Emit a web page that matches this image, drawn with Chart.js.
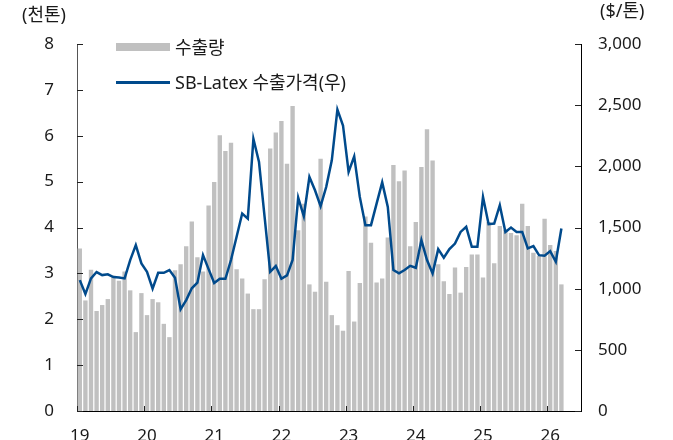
<!DOCTYPE html>
<html lang="ko">
<head>
<meta charset="utf-8">
<title>SB-Latex 수출</title>
<script src="https://cdn.jsdelivr.net/npm/chart.js@4.4.1/dist/chart.umd.min.js"></script>
<style>
  html, body { margin: 0; padding: 0; background: #fff; overflow: hidden; }
  #wrap { position: relative; width: 673px; height: 470px; }
  #chart { position: absolute; left: 0; top: 0; }
  .unit, .legend-item { position: absolute; font-family: "Noto Sans", "Noto Sans CJK KR", sans-serif; font-size: 18px; color: #1a1a1a; white-space: nowrap; line-height: 1; }
  .legend-item { display: flex; align-items: center; }
  .swatch-bar { width: 54px; height: 8px; background: #c0c0c0; margin-right: 5px; }
  .swatch-line { width: 54px; height: 3px; background: #004a8c; margin-right: 5px; }
</style>
</head>
<body>
<div id="wrap">
  <canvas id="chart" width="673" height="470"></canvas>
  <div class="unit" style="left:22px; top:5px;">(천톤)</div>
  <div class="unit" style="left:600px; top:1px;">($/톤)</div>
  <div class="legend-item" style="left:116px; top:38px;"><span class="swatch-bar"></span>수출량</div>
  <div class="legend-item" style="left:116px; top:73px;"><span class="swatch-line"></span>SB-Latex 수출가격(우)</div>
</div>
<script>
// year labels on the x axis (axis runs to mid-2026)
const yearLabels = ["19", "20", "21", "22", "23", "24", "25", "26"];

// monthly export volume, thousand tons
const exportVolume = [
  3.54, 2.41, 3.08, 2.18, 2.31, 2.44, 2.95, 2.84, 3.04, 2.63, 1.72, 2.57,
  2.09, 2.44, 2.37, 1.90, 1.61, 3.07, 3.20, 3.59, 4.13, 3.35, 3.04, 4.48,
  4.99, 6.01, 5.67, 5.85, 3.09, 2.89, 2.56, 2.22, 2.22, 2.87, 5.72, 6.07,
  6.32, 5.39, 6.65, 3.94, 4.52, 2.76, 2.60, 5.50, 2.82, 2.09, 1.87, 1.75,
  3.05, 1.95, 2.79, 4.24, 3.67, 2.80, 2.89, 3.78, 5.36, 5.01, 5.24, 3.59,
  4.12, 5.32, 6.14, 5.46, 3.20, 2.83, 2.55, 3.13, 2.58, 3.14, 3.41, 3.41,
  2.91, 4.12, 3.22, 4.03, 3.95, 3.88, 3.83, 4.52, 4.03, 3.45, 3.38, 4.19,
  3.62, 3.49, 2.76
];

// SB-Latex export price, $/ton (right axis)
const exportPrice = [
  1070, 956, 1084, 1136, 1111, 1117, 1095, 1092, 1084, 1234, 1356, 1206,
  1138, 1000, 1130, 1130, 1152, 1090, 831, 907, 1003, 1049, 1274, 1160,
  1046, 1081, 1081, 1234, 1424, 1614, 1573, 2225, 2035, 1587, 1138, 1185,
  1081, 1109, 1234, 1744, 1592, 1913, 1804, 1674, 1831, 2049, 2464, 2334,
  1954, 2081, 1750, 1519, 1519, 1695, 1869, 1668, 1152, 1125, 1152, 1187,
  1171, 1397, 1234, 1125, 1323, 1253, 1323, 1369, 1464, 1505, 1342, 1342,
  1750, 1527, 1532, 1682, 1464, 1500, 1464, 1464, 1329, 1348, 1274, 1269,
  1307, 1220, 1492
];

// month slots: 12 per year, 6 for the last one
const months = [];
yearLabels.forEach((yy, k) => {
  const n = k === yearLabels.length - 1 ? 6 : 12;
  for (let m = 1; m <= n; m++) months.push(yy + "-" + String(m).padStart(2, "0"));
});

const FONT = { family: "'Noto Sans', 'Noto Sans CJK KR', sans-serif", size: 17 };

// short tick marks pointing into the plot area
const inwardTicks = {
  id: "inwardTicks",
  afterDatasetsDraw(chart) {
    const { ctx, scales } = chart;
    const x = scales.x, y = scales.y, y1 = scales.y1;
    ctx.save();
    ctx.strokeStyle = "#222";
    ctx.lineWidth = 1;
    ctx.beginPath();
    y.ticks.forEach((t, i) => {
      const py = Math.round(y.getPixelForTick(i)) + 0.5;
      ctx.moveTo(x.left, py);
      ctx.lineTo(x.left + 6, py);
    });
    y1.ticks.forEach((t, i) => {
      const py = Math.round(y1.getPixelForTick(i)) + 0.5;
      ctx.moveTo(x.right, py);
      ctx.lineTo(x.right - 6, py);
    });
    const half = (x.getPixelForValue(1) - x.getPixelForValue(0)) / 2;
    months.forEach((m, i) => {
      if (!m.endsWith("-01")) return;
      const px = Math.round(x.getPixelForValue(i) - half) + 0.5;
      ctx.moveTo(px, y.bottom);
      ctx.lineTo(px, y.bottom - 5);
    });
    ctx.stroke();
    ctx.restore();
  }
};

const ctx = document.getElementById("chart").getContext("2d");
new Chart(ctx, {
  type: "bar",
  data: {
    labels: months,
    datasets: [
      {
        type: "line",
        label: "SB-Latex 수출가격(우)",
        data: exportPrice,
        yAxisID: "y1",
        borderColor: "#004a8c",
        borderWidth: 2.5,
        pointRadius: 0,
        tension: 0,
        order: 0,
      },
      {
        type: "bar",
        label: "수출량",
        data: exportVolume,
        yAxisID: "y",
        backgroundColor: "#c0c0c0",
        barPercentage: 0.78,
        categoryPercentage: 1,
        order: 1,
      },
    ],
  },
  options: {
    responsive: false,
    animation: false,
    layout: { padding: { top: 44, bottom: 24, left: 0, right: 0 } },
    plugins: { legend: { display: false }, tooltip: { enabled: false } },
    scales: {
      x: {
        grid: { display: false, drawTicks: false },
        border: { display: true, color: "#000", width: 1 },
        ticks: {
          autoSkip: false,
          maxRotation: 0,
          padding: 15,
          color: "#1a1a1a",
          font: FONT,
          callback: (v, i) => (months[i].endsWith("-01") ? months[i].slice(0, 2) : ""),
        },
        afterFit: (s) => { s.height = 35; },
      },
      y: {
        position: "left",
        min: 0,
        max: 8,
        grid: { display: false, drawTicks: false },
        border: { display: true, color: "#555", width: 1 },
        ticks: { stepSize: 1, padding: 23, color: "#1a1a1a", font: FONT },
        afterFit: (s) => { s.width = 77; },
      },
      y1: {
        position: "right",
        min: 0,
        max: 3000,
        grid: { display: false, drawTicks: false },
        border: { display: true, color: "#000", width: 1 },
        ticks: {
          stepSize: 500,
          padding: 17,
          color: "#1a1a1a",
          font: FONT,
          callback: (v) => v.toLocaleString("en-US"),
        },
        afterFit: (s) => { s.width = 92; },
      },
    },
  },
  plugins: [inwardTicks],
});
</script>
</body>
</html>
